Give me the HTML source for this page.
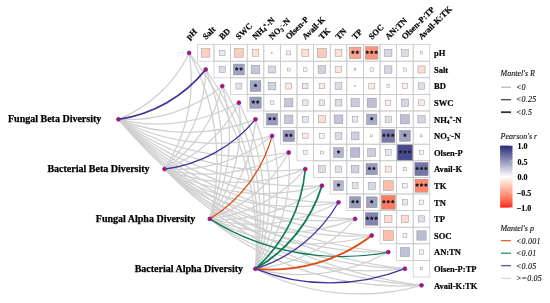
<!DOCTYPE html><html><head><meta charset="utf-8"><style>html,body{margin:0;padding:0;background:#fff;width:550px;height:303px;overflow:hidden}svg{display:block;will-change:transform}</style></head><body><svg width="550" height="303" viewBox="0 0 550 303">
<rect width="550" height="303" fill="#fff"/>
<path d="M118.45,119.30 A132.18,132.18 0 0 0 189.10,52.90" fill="none" stroke="#d0d0d0" stroke-width="1.25"/>
<path d="M118.45,119.30 A148.64,148.64 0 0 0 222.30,86.10" fill="none" stroke="#d0d0d0" stroke-width="1.25"/>
<path d="M118.45,119.30 A165.76,165.76 0 0 0 238.90,102.70" fill="none" stroke="#d0d0d0" stroke-width="1.25"/>
<path d="M118.45,119.30 A186.84,186.84 0 0 0 255.50,119.30" fill="none" stroke="#d0d0d0" stroke-width="1.25"/>
<path d="M118.45,119.30 A210.69,210.69 0 0 0 272.10,135.90" fill="none" stroke="#d0d0d0" stroke-width="1.25"/>
<path d="M118.45,119.30 A236.47,236.47 0 0 0 288.70,152.50" fill="none" stroke="#d0d0d0" stroke-width="1.25"/>
<path d="M118.45,119.30 A263.62,263.62 0 0 0 305.30,169.10" fill="none" stroke="#d0d0d0" stroke-width="1.25"/>
<path d="M118.45,119.30 A291.76,291.76 0 0 0 321.90,185.70" fill="none" stroke="#d0d0d0" stroke-width="1.25"/>
<path d="M118.45,119.30 A320.62,320.62 0 0 0 338.50,202.30" fill="none" stroke="#d0d0d0" stroke-width="1.25"/>
<path d="M118.45,119.30 A350.03,350.03 0 0 0 355.10,218.90" fill="none" stroke="#d0d0d0" stroke-width="1.25"/>
<path d="M118.45,119.30 A379.86,379.86 0 0 0 371.70,235.50" fill="none" stroke="#d0d0d0" stroke-width="1.25"/>
<path d="M118.45,119.30 A410.02,410.02 0 0 0 388.30,252.10" fill="none" stroke="#d0d0d0" stroke-width="1.25"/>
<path d="M118.45,119.30 A440.44,440.44 0 0 0 404.90,268.70" fill="none" stroke="#d0d0d0" stroke-width="1.25"/>
<path d="M118.45,119.30 A471.07,471.07 0 0 0 421.50,285.30" fill="none" stroke="#d0d0d0" stroke-width="1.25"/>
<path d="M164.50,169.05 A161.86,161.86 0 0 0 189.10,52.90" fill="none" stroke="#d0d0d0" stroke-width="1.25"/>
<path d="M164.50,169.05 A146.88,146.88 0 0 0 205.70,69.50" fill="none" stroke="#d0d0d0" stroke-width="1.25"/>
<path d="M164.50,169.05 A137.83,137.83 0 0 0 222.30,86.10" fill="none" stroke="#d0d0d0" stroke-width="1.25"/>
<path d="M164.50,169.05 A135.90,135.90 0 0 0 238.90,102.70" fill="none" stroke="#d0d0d0" stroke-width="1.25"/>
<path d="M164.50,169.05 A153.49,153.49 0 0 0 272.10,135.90" fill="none" stroke="#d0d0d0" stroke-width="1.25"/>
<path d="M164.50,169.05 A170.82,170.82 0 0 0 288.70,152.50" fill="none" stroke="#d0d0d0" stroke-width="1.25"/>
<path d="M164.50,169.05 A191.95,191.95 0 0 0 305.30,169.10" fill="none" stroke="#d0d0d0" stroke-width="1.25"/>
<path d="M164.50,169.05 A215.78,215.78 0 0 0 321.90,185.70" fill="none" stroke="#d0d0d0" stroke-width="1.25"/>
<path d="M164.50,169.05 A241.50,241.50 0 0 0 338.50,202.30" fill="none" stroke="#d0d0d0" stroke-width="1.25"/>
<path d="M164.50,169.05 A268.58,268.58 0 0 0 355.10,218.90" fill="none" stroke="#d0d0d0" stroke-width="1.25"/>
<path d="M164.50,169.05 A296.64,296.64 0 0 0 371.70,235.50" fill="none" stroke="#d0d0d0" stroke-width="1.25"/>
<path d="M164.50,169.05 A325.43,325.43 0 0 0 388.30,252.10" fill="none" stroke="#d0d0d0" stroke-width="1.25"/>
<path d="M164.50,169.05 A354.78,354.78 0 0 0 404.90,268.70" fill="none" stroke="#d0d0d0" stroke-width="1.25"/>
<path d="M164.50,169.05 A384.54,384.54 0 0 0 421.50,285.30" fill="none" stroke="#d0d0d0" stroke-width="1.25"/>
<path d="M209.80,218.90 A228.06,228.06 0 0 0 189.10,52.90" fill="none" stroke="#d0d0d0" stroke-width="1.25"/>
<path d="M209.80,218.90 A203.75,203.75 0 0 0 205.70,69.50" fill="none" stroke="#d0d0d0" stroke-width="1.25"/>
<path d="M209.80,218.90 A181.85,181.85 0 0 0 222.30,86.10" fill="none" stroke="#d0d0d0" stroke-width="1.25"/>
<path d="M209.80,218.90 A163.31,163.31 0 0 0 238.90,102.70" fill="none" stroke="#d0d0d0" stroke-width="1.25"/>
<path d="M209.80,218.90 A149.39,149.39 0 0 0 255.50,119.30" fill="none" stroke="#d0d0d0" stroke-width="1.25"/>
<path d="M209.80,218.90 A140.59,140.59 0 0 0 288.70,152.50" fill="none" stroke="#d0d0d0" stroke-width="1.25"/>
<path d="M209.80,218.90 A146.83,146.83 0 0 0 305.30,169.10" fill="none" stroke="#d0d0d0" stroke-width="1.25"/>
<path d="M209.80,218.90 A159.39,159.39 0 0 0 321.90,185.70" fill="none" stroke="#d0d0d0" stroke-width="1.25"/>
<path d="M209.80,218.90 A176.91,176.91 0 0 0 338.50,202.30" fill="none" stroke="#d0d0d0" stroke-width="1.25"/>
<path d="M209.80,218.90 A198.09,198.09 0 0 0 355.10,218.90" fill="none" stroke="#d0d0d0" stroke-width="1.25"/>
<path d="M209.80,218.90 A221.87,221.87 0 0 0 371.70,235.50" fill="none" stroke="#d0d0d0" stroke-width="1.25"/>
<path d="M209.80,218.90 A274.51,274.51 0 0 0 404.90,268.70" fill="none" stroke="#d0d0d0" stroke-width="1.25"/>
<path d="M209.80,218.90 A302.47,302.47 0 0 0 421.50,285.30" fill="none" stroke="#d0d0d0" stroke-width="1.25"/>
<path d="M255.40,268.80 A307.90,307.90 0 0 0 189.10,52.90" fill="none" stroke="#d0d0d0" stroke-width="1.25"/>
<path d="M255.40,268.80 A280.02,280.02 0 0 0 205.70,69.50" fill="none" stroke="#d0d0d0" stroke-width="1.25"/>
<path d="M255.40,268.80 A253.13,253.13 0 0 0 222.30,86.10" fill="none" stroke="#d0d0d0" stroke-width="1.25"/>
<path d="M255.40,268.80 A227.56,227.56 0 0 0 238.90,102.70" fill="none" stroke="#d0d0d0" stroke-width="1.25"/>
<path d="M255.40,268.80 A203.81,203.81 0 0 0 255.50,119.30" fill="none" stroke="#d0d0d0" stroke-width="1.25"/>
<path d="M255.40,268.80 A182.61,182.61 0 0 0 272.10,135.90" fill="none" stroke="#d0d0d0" stroke-width="1.25"/>
<path d="M255.40,268.80 A164.92,164.92 0 0 0 288.70,152.50" fill="none" stroke="#d0d0d0" stroke-width="1.25"/>
<path d="M255.40,268.80 A151.99,151.99 0 0 0 355.10,218.90" fill="none" stroke="#d0d0d0" stroke-width="1.25"/>
<path d="M255.40,268.80 A182.61,182.61 0 0 0 388.30,252.10" fill="none" stroke="#d0d0d0" stroke-width="1.25"/>
<path d="M255.40,268.80 A227.56,227.56 0 0 0 421.50,285.30" fill="none" stroke="#d0d0d0" stroke-width="1.25"/>
<path d="M118.45,119.30 A136.96,136.96 0 0 0 205.70,69.50" fill="none" stroke="#40339a" stroke-width="1.85"/>
<path d="M164.50,169.05 A141.39,141.39 0 0 0 255.50,119.30" fill="none" stroke="#40339a" stroke-width="1.3"/>
<path d="M209.80,218.90 A141.48,141.48 0 0 0 272.10,135.90" fill="none" stroke="#dd4a12" stroke-width="1.3"/>
<path d="M209.80,218.90 A247.52,247.52 0 0 0 388.30,252.10" fill="none" stroke="#0c7c56" stroke-width="1.3"/>
<path d="M255.40,268.80 A151.99,151.99 0 0 0 305.30,169.10" fill="none" stroke="#0c7c56" stroke-width="1.6"/>
<path d="M255.40,268.80 A145.10,145.10 0 0 0 321.90,185.70" fill="none" stroke="#0c7c56" stroke-width="1.85"/>
<path d="M255.40,268.80 A145.10,145.10 0 0 0 338.50,202.30" fill="none" stroke="#40339a" stroke-width="1.3"/>
<path d="M255.40,268.80 A164.92,164.92 0 0 0 371.70,235.50" fill="none" stroke="#dd4a12" stroke-width="1.85"/>
<path d="M255.40,268.80 A203.81,203.81 0 0 0 404.90,268.70" fill="none" stroke="#40339a" stroke-width="1.3"/>
<g fill="none" stroke="#c9c9c9" stroke-width="0.75"><rect x="197.40" y="44.60" width="16.60" height="16.60"/><rect x="214.00" y="44.60" width="16.60" height="16.60"/><rect x="230.60" y="44.60" width="16.60" height="16.60"/><rect x="247.20" y="44.60" width="16.60" height="16.60"/><rect x="263.80" y="44.60" width="16.60" height="16.60"/><rect x="280.40" y="44.60" width="16.60" height="16.60"/><rect x="297.00" y="44.60" width="16.60" height="16.60"/><rect x="313.60" y="44.60" width="16.60" height="16.60"/><rect x="330.20" y="44.60" width="16.60" height="16.60"/><rect x="346.80" y="44.60" width="16.60" height="16.60"/><rect x="363.40" y="44.60" width="16.60" height="16.60"/><rect x="380.00" y="44.60" width="16.60" height="16.60"/><rect x="396.60" y="44.60" width="16.60" height="16.60"/><rect x="413.20" y="44.60" width="16.60" height="16.60"/><rect x="214.00" y="61.20" width="16.60" height="16.60"/><rect x="230.60" y="61.20" width="16.60" height="16.60"/><rect x="247.20" y="61.20" width="16.60" height="16.60"/><rect x="263.80" y="61.20" width="16.60" height="16.60"/><rect x="280.40" y="61.20" width="16.60" height="16.60"/><rect x="297.00" y="61.20" width="16.60" height="16.60"/><rect x="313.60" y="61.20" width="16.60" height="16.60"/><rect x="330.20" y="61.20" width="16.60" height="16.60"/><rect x="346.80" y="61.20" width="16.60" height="16.60"/><rect x="363.40" y="61.20" width="16.60" height="16.60"/><rect x="380.00" y="61.20" width="16.60" height="16.60"/><rect x="396.60" y="61.20" width="16.60" height="16.60"/><rect x="413.20" y="61.20" width="16.60" height="16.60"/><rect x="230.60" y="77.80" width="16.60" height="16.60"/><rect x="247.20" y="77.80" width="16.60" height="16.60"/><rect x="263.80" y="77.80" width="16.60" height="16.60"/><rect x="280.40" y="77.80" width="16.60" height="16.60"/><rect x="297.00" y="77.80" width="16.60" height="16.60"/><rect x="313.60" y="77.80" width="16.60" height="16.60"/><rect x="330.20" y="77.80" width="16.60" height="16.60"/><rect x="346.80" y="77.80" width="16.60" height="16.60"/><rect x="363.40" y="77.80" width="16.60" height="16.60"/><rect x="380.00" y="77.80" width="16.60" height="16.60"/><rect x="396.60" y="77.80" width="16.60" height="16.60"/><rect x="413.20" y="77.80" width="16.60" height="16.60"/><rect x="247.20" y="94.40" width="16.60" height="16.60"/><rect x="263.80" y="94.40" width="16.60" height="16.60"/><rect x="280.40" y="94.40" width="16.60" height="16.60"/><rect x="297.00" y="94.40" width="16.60" height="16.60"/><rect x="313.60" y="94.40" width="16.60" height="16.60"/><rect x="330.20" y="94.40" width="16.60" height="16.60"/><rect x="346.80" y="94.40" width="16.60" height="16.60"/><rect x="363.40" y="94.40" width="16.60" height="16.60"/><rect x="380.00" y="94.40" width="16.60" height="16.60"/><rect x="396.60" y="94.40" width="16.60" height="16.60"/><rect x="413.20" y="94.40" width="16.60" height="16.60"/><rect x="263.80" y="111.00" width="16.60" height="16.60"/><rect x="280.40" y="111.00" width="16.60" height="16.60"/><rect x="297.00" y="111.00" width="16.60" height="16.60"/><rect x="313.60" y="111.00" width="16.60" height="16.60"/><rect x="330.20" y="111.00" width="16.60" height="16.60"/><rect x="346.80" y="111.00" width="16.60" height="16.60"/><rect x="363.40" y="111.00" width="16.60" height="16.60"/><rect x="380.00" y="111.00" width="16.60" height="16.60"/><rect x="396.60" y="111.00" width="16.60" height="16.60"/><rect x="413.20" y="111.00" width="16.60" height="16.60"/><rect x="280.40" y="127.60" width="16.60" height="16.60"/><rect x="297.00" y="127.60" width="16.60" height="16.60"/><rect x="313.60" y="127.60" width="16.60" height="16.60"/><rect x="330.20" y="127.60" width="16.60" height="16.60"/><rect x="346.80" y="127.60" width="16.60" height="16.60"/><rect x="363.40" y="127.60" width="16.60" height="16.60"/><rect x="380.00" y="127.60" width="16.60" height="16.60"/><rect x="396.60" y="127.60" width="16.60" height="16.60"/><rect x="413.20" y="127.60" width="16.60" height="16.60"/><rect x="297.00" y="144.20" width="16.60" height="16.60"/><rect x="313.60" y="144.20" width="16.60" height="16.60"/><rect x="330.20" y="144.20" width="16.60" height="16.60"/><rect x="346.80" y="144.20" width="16.60" height="16.60"/><rect x="363.40" y="144.20" width="16.60" height="16.60"/><rect x="380.00" y="144.20" width="16.60" height="16.60"/><rect x="396.60" y="144.20" width="16.60" height="16.60"/><rect x="413.20" y="144.20" width="16.60" height="16.60"/><rect x="313.60" y="160.80" width="16.60" height="16.60"/><rect x="330.20" y="160.80" width="16.60" height="16.60"/><rect x="346.80" y="160.80" width="16.60" height="16.60"/><rect x="363.40" y="160.80" width="16.60" height="16.60"/><rect x="380.00" y="160.80" width="16.60" height="16.60"/><rect x="396.60" y="160.80" width="16.60" height="16.60"/><rect x="413.20" y="160.80" width="16.60" height="16.60"/><rect x="330.20" y="177.40" width="16.60" height="16.60"/><rect x="346.80" y="177.40" width="16.60" height="16.60"/><rect x="363.40" y="177.40" width="16.60" height="16.60"/><rect x="380.00" y="177.40" width="16.60" height="16.60"/><rect x="396.60" y="177.40" width="16.60" height="16.60"/><rect x="413.20" y="177.40" width="16.60" height="16.60"/><rect x="346.80" y="194.00" width="16.60" height="16.60"/><rect x="363.40" y="194.00" width="16.60" height="16.60"/><rect x="380.00" y="194.00" width="16.60" height="16.60"/><rect x="396.60" y="194.00" width="16.60" height="16.60"/><rect x="413.20" y="194.00" width="16.60" height="16.60"/><rect x="363.40" y="210.60" width="16.60" height="16.60"/><rect x="380.00" y="210.60" width="16.60" height="16.60"/><rect x="396.60" y="210.60" width="16.60" height="16.60"/><rect x="413.20" y="210.60" width="16.60" height="16.60"/><rect x="380.00" y="227.20" width="16.60" height="16.60"/><rect x="396.60" y="227.20" width="16.60" height="16.60"/><rect x="413.20" y="227.20" width="16.60" height="16.60"/><rect x="396.60" y="243.80" width="16.60" height="16.60"/><rect x="413.20" y="243.80" width="16.60" height="16.60"/><rect x="413.20" y="260.40" width="16.60" height="16.60"/></g>
<g stroke="#8c8c8c" stroke-width="0.45"><rect x="201.50" y="48.70" width="8.40" height="8.40" fill="#ffcfc1"/><rect x="219.60" y="50.20" width="5.40" height="5.40" fill="#e8e8f1"/><rect x="234.60" y="48.60" width="8.60" height="8.60" fill="#ffcdbe"/><rect x="252.20" y="49.60" width="6.60" height="6.60" fill="#ffe2d8"/><rect x="271.60" y="52.40" width="1.00" height="1.00" fill="#fefeff"/><rect x="286.70" y="50.90" width="4.00" height="4.00" fill="#f2f3f7"/><rect x="301.80" y="49.40" width="7.00" height="7.00" fill="#ffded4"/><rect x="317.50" y="48.50" width="8.80" height="8.80" fill="#ffcabb"/><rect x="335.15" y="49.55" width="6.70" height="6.70" fill="#ffe1d7"/><rect x="349.35" y="47.15" width="11.50" height="11.50" fill="#ffa48d"/><rect x="365.45" y="46.65" width="12.50" height="12.50" fill="#ff937a"/><rect x="384.65" y="49.25" width="7.30" height="7.30" fill="#d5d6e5"/><rect x="401.55" y="49.55" width="6.70" height="6.70" fill="#dcdce9"/><rect x="420.30" y="51.70" width="2.40" height="2.40" fill="#fafbfc"/><rect x="219.10" y="66.30" width="6.40" height="6.40" fill="#dfdfeb"/><rect x="233.45" y="64.05" width="10.90" height="10.90" fill="#a1a3c5"/><rect x="251.20" y="65.20" width="8.60" height="8.60" fill="#c5c6db"/><rect x="268.60" y="66.00" width="7.00" height="7.00" fill="#d8d9e7"/><rect x="287.20" y="68.00" width="3.00" height="3.00" fill="#f8f8fb"/><rect x="303.60" y="67.80" width="3.40" height="3.40" fill="#f6f6f9"/><rect x="318.10" y="65.70" width="7.60" height="7.60" fill="#d2d2e3"/><rect x="335.60" y="66.60" width="5.80" height="5.80" fill="#ffe8e1"/><rect x="354.35" y="68.75" width="1.50" height="1.50" fill="#fdfdfe"/><rect x="370.05" y="67.85" width="3.30" height="3.30" fill="#f6f7fa"/><rect x="384.65" y="65.85" width="7.30" height="7.30" fill="#d5d6e5"/><rect x="403.35" y="67.95" width="3.10" height="3.10" fill="#f7f8fa"/><rect x="417.95" y="65.95" width="7.10" height="7.10" fill="#ffddd3"/><rect x="235.95" y="83.15" width="5.90" height="5.90" fill="#e4e4ee"/><rect x="250.10" y="80.70" width="10.80" height="10.80" fill="#a3a5c6"/><rect x="268.30" y="82.30" width="7.60" height="7.60" fill="#d2d2e3"/><rect x="285.75" y="83.15" width="5.90" height="5.90" fill="#ffe7e0"/><rect x="302.60" y="83.40" width="5.40" height="5.40" fill="#e8e8f1"/><rect x="319.20" y="83.40" width="5.40" height="5.40" fill="#ffebe5"/><rect x="335.15" y="82.75" width="6.70" height="6.70" fill="#dcdce9"/><rect x="354.50" y="85.50" width="1.20" height="1.20" fill="#fefefe"/><rect x="368.80" y="83.20" width="5.80" height="5.80" fill="#ffe8e1"/><rect x="386.95" y="84.75" width="2.70" height="2.70" fill="#f9f9fb"/><rect x="402.45" y="83.65" width="4.90" height="4.90" fill="#ffefea"/><rect x="418.30" y="82.90" width="6.40" height="6.40" fill="#dfdfeb"/><rect x="249.80" y="97.00" width="11.40" height="11.40" fill="#999bbf"/><rect x="270.25" y="100.85" width="3.70" height="3.70" fill="#f4f4f8"/><rect x="284.50" y="98.50" width="8.40" height="8.40" fill="#c7c8dc"/><rect x="302.50" y="99.90" width="5.60" height="5.60" fill="#e6e7f0"/><rect x="319.10" y="99.90" width="5.60" height="5.60" fill="#e6e7f0"/><rect x="335.15" y="99.35" width="6.70" height="6.70" fill="#dcdce9"/><rect x="351.00" y="98.60" width="8.20" height="8.20" fill="#cacbde"/><rect x="367.15" y="98.15" width="9.10" height="9.10" fill="#bebfd6"/><rect x="385.75" y="100.15" width="5.10" height="5.10" fill="#ffede8"/><rect x="401.25" y="99.05" width="7.30" height="7.30" fill="#d5d6e5"/><rect x="418.70" y="99.90" width="5.60" height="5.60" fill="#ffeae3"/><rect x="266.40" y="113.60" width="11.40" height="11.40" fill="#999bbf"/><rect x="284.50" y="115.10" width="8.40" height="8.40" fill="#c7c8dc"/><rect x="302.35" y="116.35" width="5.90" height="5.90" fill="#e4e4ee"/><rect x="318.35" y="115.75" width="7.10" height="7.10" fill="#ffddd3"/><rect x="334.15" y="114.95" width="8.70" height="8.70" fill="#c3c4da"/><rect x="352.35" y="116.55" width="5.50" height="5.50" fill="#e7e8f0"/><rect x="366.45" y="114.05" width="10.50" height="10.50" fill="#a8aac9"/><rect x="385.10" y="116.10" width="6.40" height="6.40" fill="#dfdfeb"/><rect x="400.35" y="114.75" width="9.10" height="9.10" fill="#bebfd6"/><rect x="417.85" y="115.65" width="7.30" height="7.30" fill="#d5d6e5"/><rect x="283.00" y="130.20" width="11.40" height="11.40" fill="#999bbf"/><rect x="302.50" y="133.10" width="5.60" height="5.60" fill="#ffeae3"/><rect x="319.55" y="133.55" width="4.70" height="4.70" fill="#fff0eb"/><rect x="335.15" y="132.55" width="6.70" height="6.70" fill="#dcdce9"/><rect x="351.20" y="132.00" width="7.80" height="7.80" fill="#cfd0e1"/><rect x="370.70" y="134.90" width="2.00" height="2.00" fill="#fcfcfd"/><rect x="381.75" y="129.35" width="13.10" height="13.10" fill="#787aab"/><rect x="399.45" y="130.45" width="10.90" height="10.90" fill="#a1a3c5"/><rect x="420.50" y="134.90" width="2.00" height="2.00" fill="#fcfcfd"/><rect x="303.45" y="150.65" width="3.70" height="3.70" fill="#f4f4f8"/><rect x="320.40" y="151.00" width="3.00" height="3.00" fill="#f8f8fb"/><rect x="333.60" y="147.60" width="9.80" height="9.80" fill="#b3b5d0"/><rect x="350.40" y="147.80" width="9.40" height="9.40" fill="#b9bbd4"/><rect x="367.70" y="148.50" width="8.00" height="8.00" fill="#cdcee0"/><rect x="385.45" y="149.65" width="5.70" height="5.70" fill="#e5e6ef"/><rect x="397.25" y="144.85" width="15.30" height="15.30" fill="#474a8c"/><rect x="419.55" y="150.55" width="3.90" height="3.90" fill="#f3f3f8"/><rect x="318.55" y="165.75" width="6.70" height="6.70" fill="#dcdce9"/><rect x="335.40" y="166.00" width="6.20" height="6.20" fill="#e1e1ec"/><rect x="351.25" y="165.25" width="7.70" height="7.70" fill="#d0d1e2"/><rect x="366.00" y="163.40" width="11.40" height="11.40" fill="#999bbf"/><rect x="385.35" y="166.15" width="5.90" height="5.90" fill="#ffe7e0"/><rect x="403.15" y="167.35" width="3.50" height="3.50" fill="#f5f6f9"/><rect x="414.85" y="162.45" width="13.30" height="13.30" fill="#7476a8"/><rect x="333.60" y="180.80" width="9.80" height="9.80" fill="#b3b5d0"/><rect x="352.15" y="182.75" width="5.90" height="5.90" fill="#e4e4ee"/><rect x="368.15" y="182.15" width="7.10" height="7.10" fill="#d7d8e6"/><rect x="383.40" y="180.80" width="9.80" height="9.80" fill="#ffbeab"/><rect x="402.65" y="183.45" width="4.50" height="4.50" fill="#fff1ed"/><rect x="415.00" y="179.20" width="13.00" height="13.00" fill="#ff896f"/><rect x="349.45" y="196.65" width="11.30" height="11.30" fill="#9a9cc0"/><rect x="366.25" y="196.85" width="10.90" height="10.90" fill="#a1a3c5"/><rect x="381.40" y="195.40" width="13.80" height="13.80" fill="#ff795e"/><rect x="402.20" y="199.60" width="5.40" height="5.40" fill="#e8e8f1"/><rect x="419.25" y="200.05" width="4.50" height="4.50" fill="#fff1ed"/><rect x="365.40" y="212.60" width="12.60" height="12.60" fill="#8284b1"/><rect x="384.60" y="215.20" width="7.40" height="7.40" fill="#ffdacf"/><rect x="401.20" y="215.20" width="7.40" height="7.40" fill="#ffdacf"/><rect x="418.40" y="215.80" width="6.20" height="6.20" fill="#e1e1ec"/><rect x="383.40" y="230.60" width="9.80" height="9.80" fill="#ffbeab"/><rect x="402.95" y="233.55" width="3.90" height="3.90" fill="#f3f3f8"/><rect x="416.85" y="230.85" width="9.30" height="9.30" fill="#bbbcd5"/><rect x="400.40" y="247.60" width="9.00" height="9.00" fill="#bfc0d7"/><rect x="419.30" y="249.90" width="4.40" height="4.40" fill="#f0f0f6"/><rect x="420.25" y="267.45" width="2.50" height="2.50" fill="#fafafc"/></g>
<g fill="#1e1e28"><polygon points="352.90,50.30 353.63,51.29 354.80,51.68 354.09,52.69 354.08,53.92 352.90,53.55 351.72,53.92 351.71,52.69 351.00,51.68 352.17,51.29"/><polygon points="357.30,50.30 358.03,51.29 359.20,51.68 358.49,52.69 358.48,53.92 357.30,53.55 356.12,53.92 356.11,52.69 355.40,51.68 356.57,51.29"/><polygon points="367.30,50.30 368.03,51.29 369.20,51.68 368.49,52.69 368.48,53.92 367.30,53.55 366.12,53.92 366.11,52.69 365.40,51.68 366.57,51.29"/><polygon points="371.70,50.30 372.43,51.29 373.60,51.68 372.89,52.69 372.88,53.92 371.70,53.55 370.52,53.92 370.51,52.69 369.80,51.68 370.97,51.29"/><polygon points="376.10,50.30 376.83,51.29 378.00,51.68 377.29,52.69 377.28,53.92 376.10,53.55 374.92,53.92 374.91,52.69 374.20,51.68 375.37,51.29"/><polygon points="236.70,66.90 237.43,67.89 238.60,68.28 237.89,69.29 237.88,70.52 236.70,70.15 235.52,70.52 235.51,69.29 234.80,68.28 235.97,67.89"/><polygon points="241.10,66.90 241.83,67.89 243.00,68.28 242.29,69.29 242.28,70.52 241.10,70.15 239.92,70.52 239.91,69.29 239.20,68.28 240.37,67.89"/><polygon points="255.50,83.50 256.23,84.49 257.40,84.88 256.69,85.89 256.68,87.12 255.50,86.75 254.32,87.12 254.31,85.89 253.60,84.88 254.77,84.49"/><polygon points="253.30,100.10 254.03,101.09 255.20,101.48 254.49,102.49 254.48,103.72 253.30,103.35 252.12,103.72 252.11,102.49 251.40,101.48 252.57,101.09"/><polygon points="257.70,100.10 258.43,101.09 259.60,101.48 258.89,102.49 258.88,103.72 257.70,103.35 256.52,103.72 256.51,102.49 255.80,101.48 256.97,101.09"/><polygon points="269.90,116.70 270.63,117.69 271.80,118.08 271.09,119.09 271.08,120.32 269.90,119.95 268.72,120.32 268.71,119.09 268.00,118.08 269.17,117.69"/><polygon points="274.30,116.70 275.03,117.69 276.20,118.08 275.49,119.09 275.48,120.32 274.30,119.95 273.12,120.32 273.11,119.09 272.40,118.08 273.57,117.69"/><polygon points="371.70,116.70 372.43,117.69 373.60,118.08 372.89,119.09 372.88,120.32 371.70,119.95 370.52,120.32 370.51,119.09 369.80,118.08 370.97,117.69"/><polygon points="286.50,133.30 287.23,134.29 288.40,134.68 287.69,135.69 287.68,136.92 286.50,136.55 285.32,136.92 285.31,135.69 284.60,134.68 285.77,134.29"/><polygon points="290.90,133.30 291.63,134.29 292.80,134.68 292.09,135.69 292.08,136.92 290.90,136.55 289.72,136.92 289.71,135.69 289.00,134.68 290.17,134.29"/><polygon points="383.90,133.30 384.63,134.29 385.80,134.68 385.09,135.69 385.08,136.92 383.90,136.55 382.72,136.92 382.71,135.69 382.00,134.68 383.17,134.29"/><polygon points="388.30,133.30 389.03,134.29 390.20,134.68 389.49,135.69 389.48,136.92 388.30,136.55 387.12,136.92 387.11,135.69 386.40,134.68 387.57,134.29"/><polygon points="392.70,133.30 393.43,134.29 394.60,134.68 393.89,135.69 393.88,136.92 392.70,136.55 391.52,136.92 391.51,135.69 390.80,134.68 391.97,134.29"/><polygon points="404.90,133.30 405.63,134.29 406.80,134.68 406.09,135.69 406.08,136.92 404.90,136.55 403.72,136.92 403.71,135.69 403.00,134.68 404.17,134.29"/><polygon points="338.50,149.90 339.23,150.89 340.40,151.28 339.69,152.29 339.68,153.52 338.50,153.15 337.32,153.52 337.31,152.29 336.60,151.28 337.77,150.89"/><polygon points="400.50,149.90 401.23,150.89 402.40,151.28 401.69,152.29 401.68,153.52 400.50,153.15 399.32,153.52 399.31,152.29 398.60,151.28 399.77,150.89"/><polygon points="404.90,149.90 405.63,150.89 406.80,151.28 406.09,152.29 406.08,153.52 404.90,153.15 403.72,153.52 403.71,152.29 403.00,151.28 404.17,150.89"/><polygon points="409.30,149.90 410.03,150.89 411.20,151.28 410.49,152.29 410.48,153.52 409.30,153.15 408.12,153.52 408.11,152.29 407.40,151.28 408.57,150.89"/><polygon points="369.50,166.50 370.23,167.49 371.40,167.88 370.69,168.89 370.68,170.12 369.50,169.75 368.32,170.12 368.31,168.89 367.60,167.88 368.77,167.49"/><polygon points="373.90,166.50 374.63,167.49 375.80,167.88 375.09,168.89 375.08,170.12 373.90,169.75 372.72,170.12 372.71,168.89 372.00,167.88 373.17,167.49"/><polygon points="417.10,166.50 417.83,167.49 419.00,167.88 418.29,168.89 418.28,170.12 417.10,169.75 415.92,170.12 415.91,168.89 415.20,167.88 416.37,167.49"/><polygon points="421.50,166.50 422.23,167.49 423.40,167.88 422.69,168.89 422.68,170.12 421.50,169.75 420.32,170.12 420.31,168.89 419.60,167.88 420.77,167.49"/><polygon points="425.90,166.50 426.63,167.49 427.80,167.88 427.09,168.89 427.08,170.12 425.90,169.75 424.72,170.12 424.71,168.89 424.00,167.88 425.17,167.49"/><polygon points="338.50,183.10 339.23,184.09 340.40,184.48 339.69,185.49 339.68,186.72 338.50,186.35 337.32,186.72 337.31,185.49 336.60,184.48 337.77,184.09"/><polygon points="417.10,183.10 417.83,184.09 419.00,184.48 418.29,185.49 418.28,186.72 417.10,186.35 415.92,186.72 415.91,185.49 415.20,184.48 416.37,184.09"/><polygon points="421.50,183.10 422.23,184.09 423.40,184.48 422.69,185.49 422.68,186.72 421.50,186.35 420.32,186.72 420.31,185.49 419.60,184.48 420.77,184.09"/><polygon points="425.90,183.10 426.63,184.09 427.80,184.48 427.09,185.49 427.08,186.72 425.90,186.35 424.72,186.72 424.71,185.49 424.00,184.48 425.17,184.09"/><polygon points="352.90,199.70 353.63,200.69 354.80,201.08 354.09,202.09 354.08,203.32 352.90,202.95 351.72,203.32 351.71,202.09 351.00,201.08 352.17,200.69"/><polygon points="357.30,199.70 358.03,200.69 359.20,201.08 358.49,202.09 358.48,203.32 357.30,202.95 356.12,203.32 356.11,202.09 355.40,201.08 356.57,200.69"/><polygon points="371.70,199.70 372.43,200.69 373.60,201.08 372.89,202.09 372.88,203.32 371.70,202.95 370.52,203.32 370.51,202.09 369.80,201.08 370.97,200.69"/><polygon points="383.90,199.70 384.63,200.69 385.80,201.08 385.09,202.09 385.08,203.32 383.90,202.95 382.72,203.32 382.71,202.09 382.00,201.08 383.17,200.69"/><polygon points="388.30,199.70 389.03,200.69 390.20,201.08 389.49,202.09 389.48,203.32 388.30,202.95 387.12,203.32 387.11,202.09 386.40,201.08 387.57,200.69"/><polygon points="392.70,199.70 393.43,200.69 394.60,201.08 393.89,202.09 393.88,203.32 392.70,202.95 391.52,203.32 391.51,202.09 390.80,201.08 391.97,200.69"/><polygon points="367.30,216.30 368.03,217.29 369.20,217.68 368.49,218.69 368.48,219.92 367.30,219.55 366.12,219.92 366.11,218.69 365.40,217.68 366.57,217.29"/><polygon points="371.70,216.30 372.43,217.29 373.60,217.68 372.89,218.69 372.88,219.92 371.70,219.55 370.52,219.92 370.51,218.69 369.80,217.68 370.97,217.29"/><polygon points="376.10,216.30 376.83,217.29 378.00,217.68 377.29,218.69 377.28,219.92 376.10,219.55 374.92,219.92 374.91,218.69 374.20,217.68 375.37,217.29"/></g>
<g fill="#ff0000" stroke="#3a3aff" stroke-width="0.9"><circle cx="189.10" cy="52.90" r="1.9"/><circle cx="205.70" cy="69.50" r="1.9"/><circle cx="222.30" cy="86.10" r="1.9"/><circle cx="238.90" cy="102.70" r="1.9"/><circle cx="255.50" cy="119.30" r="1.9"/><circle cx="272.10" cy="135.90" r="1.9"/><circle cx="288.70" cy="152.50" r="1.9"/><circle cx="305.30" cy="169.10" r="1.9"/><circle cx="321.90" cy="185.70" r="1.9"/><circle cx="338.50" cy="202.30" r="1.9"/><circle cx="355.10" cy="218.90" r="1.9"/><circle cx="371.70" cy="235.50" r="1.9"/><circle cx="388.30" cy="252.10" r="1.9"/><circle cx="404.90" cy="268.70" r="1.9"/><circle cx="421.50" cy="285.30" r="1.9"/><circle cx="118.45" cy="119.30" r="1.9"/><circle cx="164.50" cy="169.05" r="1.9"/><circle cx="209.80" cy="218.90" r="1.9"/><circle cx="255.40" cy="268.80" r="1.9"/></g>
<g font-family="Liberation Serif" font-weight="bold" font-size="8.5" fill="#000" stroke="#000" stroke-width="0.2"><text x="434" y="56.10">pH</text><text x="434" y="72.70">Salt</text><text x="434" y="89.30">BD</text><text x="434" y="105.90">SWC</text><text x="434" y="122.50">NH<tspan font-size="5.5" dy="1.0">4</tspan><tspan font-size="5.5" dy="-3.6">+</tspan><tspan dy="2.6">-N</tspan></text><text x="434" y="139.10">NO<tspan font-size="5.5" dy="1.5">3</tspan><tspan font-size="5.5" dy="-4.1">-</tspan><tspan dy="2.6">-N</tspan></text><text x="434" y="155.70">Olsen-P</text><text x="434" y="172.30">Avail-K</text><text x="434" y="188.90">TK</text><text x="434" y="205.50">TN</text><text x="434" y="222.10">TP</text><text x="434" y="238.70">SOC</text><text x="434" y="255.30">AN:TN</text><text x="434" y="271.90">Olsen-P:TP</text><text x="434" y="288.50">Avail-K:TK</text></g>
<g font-family="Liberation Serif" font-weight="bold" font-size="8.5" fill="#000" stroke="#000" stroke-width="0.2"><text transform="translate(189.30,40.10) rotate(-45)">pH</text><text transform="translate(205.90,40.10) rotate(-45)">Salt</text><text transform="translate(222.50,40.10) rotate(-45)">BD</text><text transform="translate(239.10,40.10) rotate(-45)">SWC</text><text transform="translate(255.70,40.10) rotate(-45)">NH<tspan font-size="5.5" dy="1.0">4</tspan><tspan font-size="5.5" dy="-3.6">+</tspan><tspan dy="2.6">-N</tspan></text><text transform="translate(272.30,40.10) rotate(-45)">NO<tspan font-size="5.5" dy="1.5">3</tspan><tspan font-size="5.5" dy="-4.1">-</tspan><tspan dy="2.6">-N</tspan></text><text transform="translate(288.90,40.10) rotate(-45)">Olsen-P</text><text transform="translate(305.50,40.10) rotate(-45)">Avail-K</text><text transform="translate(322.10,40.10) rotate(-45)">TK</text><text transform="translate(338.70,40.10) rotate(-45)">TN</text><text transform="translate(355.30,40.10) rotate(-45)">TP</text><text transform="translate(371.90,40.10) rotate(-45)">SOC</text><text transform="translate(388.50,40.10) rotate(-45)">AN:TN</text><text transform="translate(405.10,40.10) rotate(-45)">Olsen-P:TP</text><text transform="translate(421.70,40.10) rotate(-45)">Avail-K:TK</text></g>
<g font-family="Liberation Serif" font-weight="bold" font-size="10" fill="#000" stroke="#000" stroke-width="0.25" text-anchor="end"><text x="101.30" y="122.45">Fungal Beta Diversity</text><text x="149.60" y="172.20">Bacterial Beta Diversity</text><text x="195.30" y="222.05">Fungal Alpha Diversity</text><text x="243.00" y="271.95">Bacterial Alpha Diversity</text></g>
<g font-family="Liberation Serif" font-style="italic" font-size="8" fill="#111" stroke="#111" stroke-width="0.12">
<text x="500.6" y="76">Mantel's R</text>
<text x="516" y="89.7">&lt;0</text><text x="516" y="102.2" letter-spacing="0.2">&lt;0.25</text><text x="516" y="114.7" letter-spacing="0.2">&lt;0.5</text>
<text x="500.6" y="139">Pearson's r</text>
<text x="500.4" y="231.1">Mantel's p</text>
<text x="516" y="243.5" letter-spacing="0.2">&lt;0.001</text><text x="516" y="256" letter-spacing="0.2">&lt;0.01</text><text x="516" y="268.5" letter-spacing="0.2">&lt;0.05</text><text x="516" y="281" letter-spacing="0.2">&gt;=0.05</text>
</g>
<line x1="501" y1="87.2" x2="511" y2="87.2" stroke="#777" stroke-width="0.65"/>
<line x1="501" y1="99.7" x2="511" y2="99.7" stroke="#3c3c3c" stroke-width="1.2"/>
<line x1="501" y1="112.2" x2="511" y2="112.2" stroke="#333" stroke-width="1.8"/>
<line x1="501" y1="240.7" x2="511" y2="240.7" stroke="#dd4a12" stroke-width="1.1"/>
<line x1="501" y1="253.2" x2="511" y2="253.2" stroke="#0c7c56" stroke-width="1.1"/>
<line x1="501" y1="265.7" x2="511" y2="265.7" stroke="#40339a" stroke-width="1.1"/>
<line x1="501" y1="278.2" x2="511" y2="278.2" stroke="#d0d0d0" stroke-width="1.1"/>
<defs><linearGradient id="cb" x1="0" y1="0" x2="0" y2="1"><stop offset="0.000" stop-color="#262a78"/><stop offset="0.025" stop-color="#31357f"/><stop offset="0.050" stop-color="#3c3f86"/><stop offset="0.075" stop-color="#474a8c"/><stop offset="0.100" stop-color="#515593"/><stop offset="0.125" stop-color="#5c5f9a"/><stop offset="0.150" stop-color="#676aa0"/><stop offset="0.175" stop-color="#7275a7"/><stop offset="0.200" stop-color="#7d7fae"/><stop offset="0.225" stop-color="#888ab5"/><stop offset="0.250" stop-color="#9294bc"/><stop offset="0.275" stop-color="#9d9fc2"/><stop offset="0.300" stop-color="#a8aac9"/><stop offset="0.325" stop-color="#b3b4d0"/><stop offset="0.350" stop-color="#bebfd6"/><stop offset="0.375" stop-color="#c9cadd"/><stop offset="0.400" stop-color="#d4d4e4"/><stop offset="0.425" stop-color="#dedfeb"/><stop offset="0.450" stop-color="#e9eaf2"/><stop offset="0.475" stop-color="#f4f4f8"/><stop offset="0.500" stop-color="#ffffff"/><stop offset="0.525" stop-color="#fff6f3"/><stop offset="0.550" stop-color="#ffece7"/><stop offset="0.575" stop-color="#ffe3da"/><stop offset="0.600" stop-color="#ffdace"/><stop offset="0.625" stop-color="#ffd0c3"/><stop offset="0.650" stop-color="#ffc7b7"/><stop offset="0.675" stop-color="#ffbdab"/><stop offset="0.700" stop-color="#ffb4a0"/><stop offset="0.725" stop-color="#ffaa94"/><stop offset="0.750" stop-color="#ffa089"/><stop offset="0.775" stop-color="#ff967e"/><stop offset="0.800" stop-color="#ff8c72"/><stop offset="0.825" stop-color="#ff8267"/><stop offset="0.850" stop-color="#ff775c"/><stop offset="0.875" stop-color="#ff6c52"/><stop offset="0.900" stop-color="#ff6047"/><stop offset="0.925" stop-color="#ff533c"/><stop offset="0.950" stop-color="#ff4531"/><stop offset="0.975" stop-color="#ff3326"/><stop offset="1.000" stop-color="#ff1a1a"/></linearGradient></defs>
<rect x="500.1" y="145.6" width="12.4" height="62" fill="url(#cb)"/>
<line x1="510" y1="145.6" x2="512.5" y2="145.6" stroke="#fff" stroke-width="0.5"/>
<line x1="510" y1="161.1" x2="512.5" y2="161.1" stroke="#fff" stroke-width="0.5"/>
<line x1="510" y1="176.6" x2="512.5" y2="176.6" stroke="#fff" stroke-width="0.5"/>
<line x1="510" y1="192.1" x2="512.5" y2="192.1" stroke="#fff" stroke-width="0.5"/>
<line x1="510" y1="207.6" x2="512.5" y2="207.6" stroke="#fff" stroke-width="0.5"/>
<g font-family="Liberation Serif" font-weight="bold" font-size="8" fill="#000" stroke="#000" stroke-width="0.15">
<text x="517.5" y="149.1">1.0</text>
<text x="517.5" y="164.6">0.5</text>
<text x="517.5" y="180.1">0.0</text>
<text x="516.8" y="195.6">−0.5</text>
<text x="516.8" y="211.1">−1.0</text>
</g>
</svg></body></html>
